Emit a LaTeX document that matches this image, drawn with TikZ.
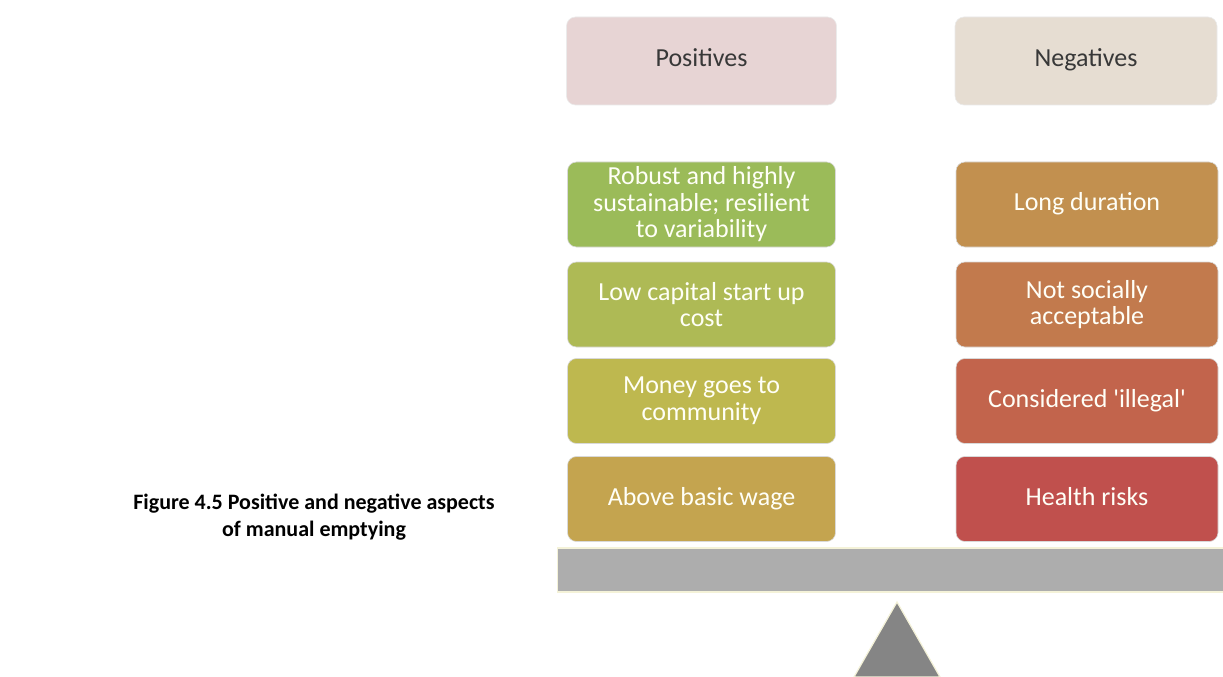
\documentclass[tikz,border=0pt]{standalone}
\usepackage{fontspec}
\setmainfont{Carlito}
\begin{document}
\begin{tikzpicture}[x=1bp,y=-1bp,
  hdr/.style={rounded corners=9bp, minimum width=270bp, minimum height=88bp, inner sep=0pt,
    text height=18bp, text depth=6bp,
    text=black!78, font=\fontsize{26bp}{26bp}\selectfont, draw=white!92!black, line width=0.6bp},
  item/.style={rounded corners=9bp, minimum width=268bp, minimum height=85bp, inner sep=0pt,
    text=white!97!yellow, align=center, font=\fontsize{26bp}{26.5bp}\selectfont,
    draw=white!85!black, line width=0.6bp},
  oneline/.style={text height=18bp, text depth=6bp},
  caption/.style={align=center, font=\bfseries\fontsize{22bp}{27bp}\selectfont, text=black}]
\definecolor{posH}{HTML}{E7D4D4}
\definecolor{negH}{HTML}{E6DDD2}
\definecolor{cA}{HTML}{9BBB59}
\definecolor{cB}{HTML}{AEBA55}
\definecolor{cC}{HTML}{BEB84F}
\definecolor{cD}{HTML}{C4A44F}
\definecolor{cE}{HTML}{C2904F}
\definecolor{cF}{HTML}{C27A4D}
\definecolor{cG}{HTML}{C2644C}
\definecolor{cH}{HTML}{C0504D}
\definecolor{beam}{HTML}{ADADAD}
\definecolor{pivot}{HTML}{858585}
\useasboundingbox (0,0) rectangle (1223,677);
\fill[white] (0,0) rectangle (1223,677);
% headers
\node[hdr, fill=posH] (pos) at (701.5,61) {Positives};
\node[hdr, fill=negH, minimum width=262bp] (neg) at (1086,61) {Negatives};
% positives
\node[item, fill=cA] (p1) at (701.5,204.5) {Robust and highly\\sustainable; resilient\\to variability};
\node[item, fill=cB] (p2) at (701.5,304.5) {Low capital start up\\cost};
\node[item, fill=cC] (p3) at (701.5,401) {Money goes to\\community};
\node[item, oneline, fill=cD] (p4) at (701.5,499) {Above basic wage};
% negatives
\node[item, oneline, fill=cE, minimum width=262bp] (n1) at (1087,204.5) {Long duration};
\node[item, fill=cF, minimum width=262bp] (n2) at (1087,304.5) {Not socially\\acceptable};
\node[item, oneline, fill=cG, minimum width=262bp] (n3) at (1087,401) {Considered \textquotesingle illegal\textquotesingle};
\node[item, oneline, fill=cH, minimum width=262bp] (n4) at (1087,499) {Health risks};
% balance
\node[fill=beam, draw=white!88!yellow!95!black, line width=1.2bp, minimum width=668bp, minimum height=44bp, inner sep=0pt, anchor=west] (bar) at (557,570) {};
\coordinate (apex) at (897,602);
\fill[pivot, draw=white!88!yellow!95!black, line width=1.2bp] (apex) -- (854,677) -- (940,677) -- cycle;
% caption
\node[caption] (cap) at (314,517) {Figure 4.5 Positive and negative aspects\\of manual emptying};
\end{tikzpicture}
\end{document}
